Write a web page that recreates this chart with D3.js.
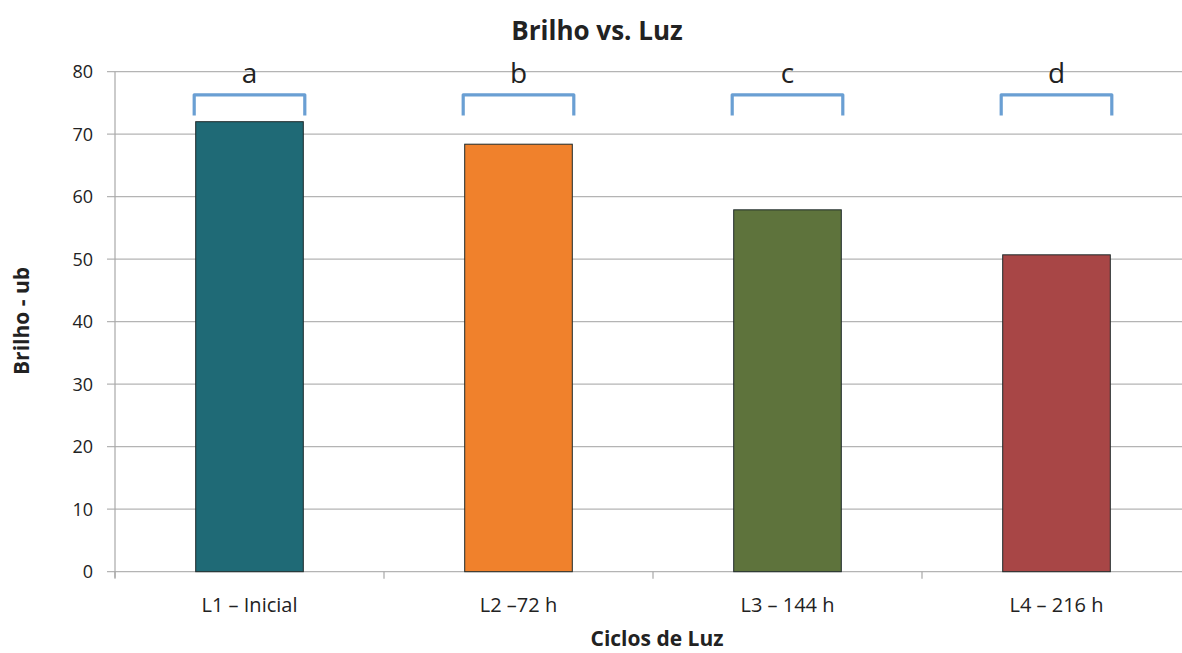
<!DOCTYPE html>
<meta charset="utf-8">
<style>
body { margin:0; background:#fff; }
text { font-family: "Open Sans", Lato, sans-serif; fill:#222; }
</style>
<script src="https://d3js.org/d3.v7.min.js"></script>
<body>
<script>

var width = 1182, height = 653

var categories = ['L1 \u2013 Inicial', 'L2 \u201372 h', 'L3 \u2013 144 h', 'L4 \u2013 216 h']
var values = [72.0, 68.4, 57.9, 50.7]
var letters = ['a', 'b', 'c', 'd']
var barColors = ['#1f6a76', '#f0812c', '#5e733c', '#a84646']
var yTicks = [0, 10, 20, 30, 40, 50, 60, 70, 80]

var plotLeft = 115, plotTop = 71.7, plotBottom = 571.7

var svg = d3.select('body').append('svg').attr('width', width).attr('height', height)

var x = d3.scaleBand().domain(categories).range([plotLeft, plotLeft + 4*269]).paddingInner(0.6).paddingOuter(0.3)
var y = d3.scaleLinear().domain([0, 80]).range([plotBottom, plotTop])

// gridlines
svg.append('g').selectAll('line').data(yTicks).enter().append('line')
  .attr('x1', plotLeft - 8).attr('x2', width)
  .attr('y1', d => y(d)).attr('y2', d => y(d))
  .attr('stroke', '#b4b4b4').attr('stroke-width', 1.2)

// y labels
svg.append('g').selectAll('text').data(yTicks).enter().append('text')
  .attr('x', plotLeft - 22).attr('y', d => y(d)).attr('dy', '0.36em')
  .attr('text-anchor', 'end').style('font-size', '18px')
  .text(d => d)

// axis line
svg.append('line').attr('x1', plotLeft).attr('x2', plotLeft).attr('y1', plotTop).attr('y2', plotBottom + 6)
  .attr('stroke', '#a8a8a8').attr('stroke-width', 1.2)

// category ticks
var step = x.step()
svg.append('g').selectAll('line').data(categories).enter().append('line')
  .attr('x1', (d,i) => plotLeft + i*step).attr('x2', (d,i) => plotLeft + i*step)
  .attr('y1', plotBottom).attr('y2', plotBottom + 7)
  .attr('stroke', '#a8a8a8').attr('stroke-width', 1.2)

// bars
svg.append('g').selectAll('rect').data(values).enter().append('rect')
  .attr('x', (d,i) => x(categories[i]))
  .attr('y', d => y(d))
  .attr('width', x.bandwidth())
  .attr('height', d => plotBottom - y(d))
  .attr('fill', (d,i) => barColors[i])
  .attr('stroke', '#1e2a2a').attr('stroke-width', 1)

// category labels
svg.append('g').selectAll('text').data(categories).enter().append('text')
  .attr('x', d => x(d) + x.bandwidth()/2).attr('y', 612)
  .attr('text-anchor', 'middle').style('font-size', '20px')
  .text(d => d)

// brackets
svg.append('g').selectAll('path').data(letters).enter().append('path')
  .attr('d', (d,i) => {
    var x0 = x(categories[i]) - 1.5, x1 = x(categories[i]) + x.bandwidth() + 1.5
    var yt = y(76.3), yb = y(73)
    return 'M' + x0 + ',' + yb + 'V' + yt + 'H' + x1 + 'V' + yb
  })
  .attr('fill', 'none').attr('stroke', '#6a9fd3').attr('stroke-width', 3.2)
  .attr('stroke-linejoin', 'round')

svg.append('g').selectAll('text').data(letters).enter().append('text')
  .attr('x', (d,i) => x(categories[i]) + x.bandwidth()/2).attr('y', 83)
  .attr('text-anchor', 'middle').style('font-size', '28px')
  .text(d => d)

// title and axis titles
svg.append('text').attr('x', 597).attr('y', 40).attr('text-anchor', 'middle')
  .style('font-size', '26px').style('font-weight', 'bold').text('Brilho vs. Luz')

svg.append('text').attr('x', 657).attr('y', 646).attr('text-anchor', 'middle')
  .style('font-size', '21px').style('font-weight', 'bold').text('Ciclos de Luz')

svg.append('text').attr('transform', 'translate(22,' + 321 + ')rotate(-90)')
  .attr('text-anchor', 'middle').attr('dy', '0.35em')
  .style('font-size', '21px').style('font-weight', 'bold').text('Brilho - ub')

</script>
